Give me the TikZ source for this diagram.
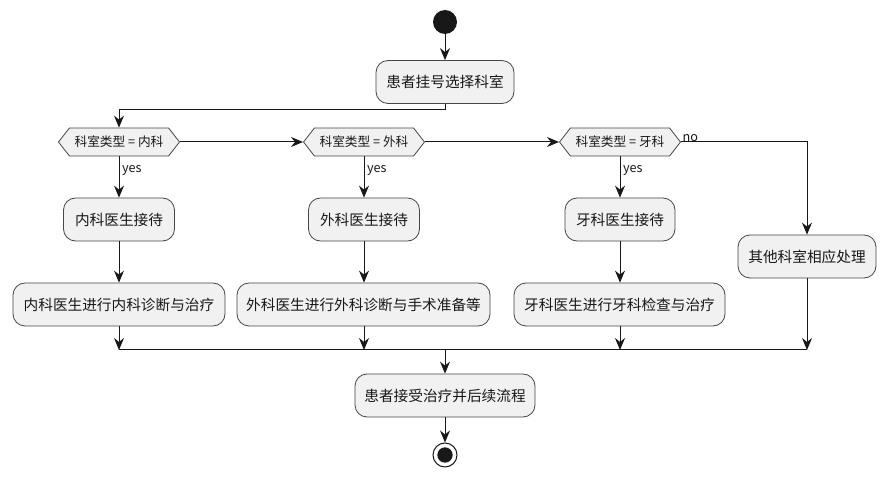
\documentclass[tikz,border=0pt]{standalone}
\usepackage{fontspec}
\setmainfont{Noto Sans CJK SC}
\usetikzlibrary{arrows.meta,shapes.symbols}
\definecolor{boxfill}{HTML}{F1F1F1}
\definecolor{ink}{HTML}{181818}
\begin{document}
\begin{tikzpicture}[x=0.75pt,y=-0.75pt,
  every node/.style={font=\fontsize{11pt}{13pt}\selectfont, text=ink},
  actbox/.style={draw=ink!80, line width=0.6pt, fill=boxfill, rounded corners=9pt, minimum height=32.25pt, inner sep=0pt},
  decision/.style={draw=ink!80, line width=0.6pt, fill=boxfill, shape=signal, signal to=west and east, signal pointer angle=104, minimum width=90.75pt, minimum height=21pt, inner sep=1pt, font=\fontsize{9.5pt}{11pt}\selectfont},
  arr/.style={draw=ink, line width=0.75pt, -{Stealth[length=9pt,width=7.5pt,inset=3pt]}},
  lnk/.style={draw=ink, line width=0.75pt},
  lbl/.style={font=\fontsize{9.5pt}{11pt}\selectfont, inner sep=1pt}
]
\useasboundingbox (0,0) rectangle (890,481);
\fill[white] (0,0) rectangle (890,481);

\node[circle, fill=ink, minimum size=18pt, inner sep=0pt] (start) at (445,22) {};
\node[actbox, minimum width=103.5pt] (reg) at (445,82) {患者挂号选择科室};

\node[decision] (d1) at (119,142) {科室类型\ =\ 内科};
\node[decision] (d2) at (364,142) {科室类型\ =\ 外科};
\node[decision] (d3) at (620,142) {科室类型\ =\ 牙科};

\node[actbox, minimum width=83.25pt] (a1) at (119,219.5) {内科医生接待};
\node[actbox, minimum width=83.25pt] (a2) at (364,219.5) {外科医生接待};
\node[actbox, minimum width=82.5pt] (a3) at (620,219.5) {牙科医生接待};
\node[actbox, minimum width=103.5pt] (oth) at (807,256.5) {其他科室相应处理};

\node[actbox, minimum width=159pt] (b1) at (119,304.5) {内科医生进行内科诊断与治疗};
\node[actbox, minimum width=189.75pt] (b2) at (363.5,304.5) {外科医生进行外科诊断与手术准备等};
\node[actbox, minimum width=158.25pt] (b3) at (619.5,304.5) {牙科医生进行牙科检查与治疗};

\node[actbox, minimum width=135pt] (fin) at (445,395.5) {患者接受治疗并后续流程};

\node[circle, draw=ink, line width=0.75pt, fill=white, minimum size=18pt, inner sep=0pt] (end) at (445,455) {};
\node[circle, fill=ink, minimum size=11.5pt, inner sep=0pt] (endin) at (445,455) {};

\coordinate (split) at (445,110);
\coordinate (merge) at (445,350);
\coordinate (noturn) at (807,142);

\draw[arr] (start) -- (reg);
\draw[arr] (reg.south) -- (split) -| (d1.north);
\draw[arr] (d1.east) -- (d2.west);
\draw[arr] (d2.east) -- (d3.west);
\draw[arr] (d3.east) -- (noturn) -- (oth.north);
\node[lbl, anchor=south west] (nolbl) at ([xshift=0pt,yshift=-1pt]d3.east) {no};

\draw[arr] (d1.south) -- node[lbl, pos=0.33, anchor=west, xshift=1pt] (y1) {yes} (a1.north);
\draw[arr] (d2.south) -- node[lbl, pos=0.33, anchor=west, xshift=1pt] (y2) {yes} (a2.north);
\draw[arr] (d3.south) -- node[lbl, pos=0.33, anchor=west, xshift=1pt] (y3) {yes} (a3.north);

\draw[arr] (a1.south) -- (b1.north);
\draw[arr] (a2.south) -- (b2.north -| a2.south);
\draw[arr] (a3.south) -- (b3.north -| a3.south);

\draw[arr] (b1.south) -- (b1.south |- merge);
\draw[arr] (a2.south |- b2.south) -- (a2.south |- merge);
\draw[arr] (a3.south |- b3.south) -- (a3.south |- merge);
\draw[arr] (oth.south) -- (oth.south |- merge);
\draw[lnk] (b1.south |- merge) -- (oth.south |- merge);
\draw[arr] (merge) -- (fin.north);
\draw[arr] (fin.south) -- (end.north);
\end{tikzpicture}
\end{document}
